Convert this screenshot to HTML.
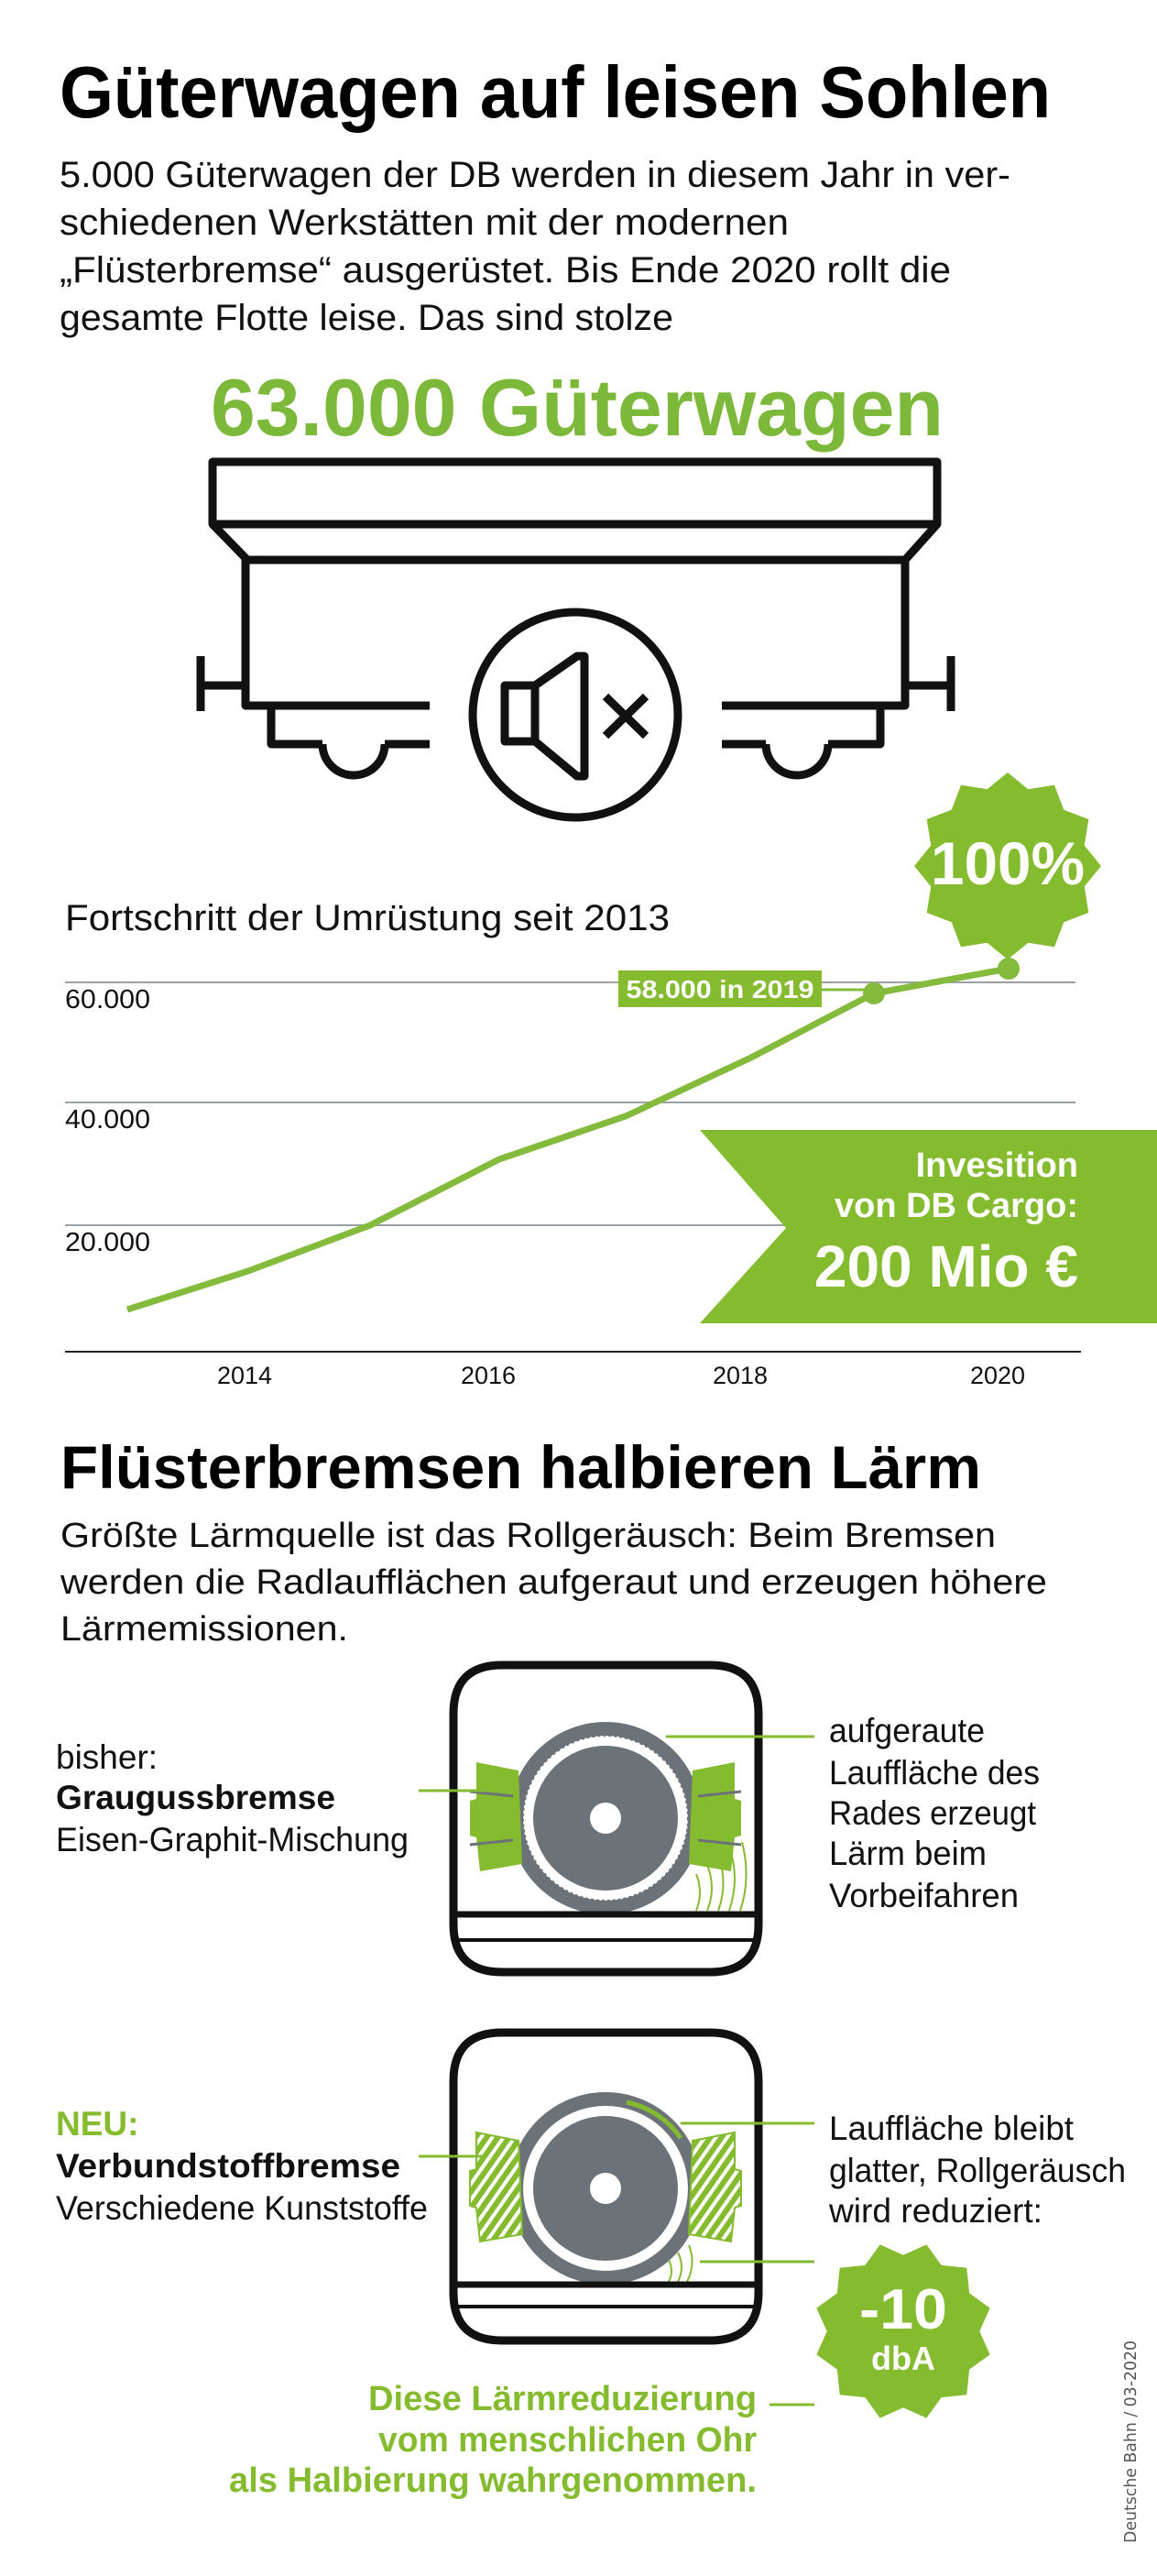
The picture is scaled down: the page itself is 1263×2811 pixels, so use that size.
<!DOCTYPE html>
<html><head><meta charset="utf-8"><style>
html,body{margin:0;padding:0;background:#fff}
svg{display:block}
text{font-family:"Liberation Sans Narrow","Liberation Sans",sans-serif}
</style></head><body>
<svg width="1263" height="2811" viewBox="0 0 1263 2811" xmlns="http://www.w3.org/2000/svg">
<defs>
<polygon id="star" points="1,0 .821,.22 .866,.5 .601,.601 .5,.866 .22,.821 0,1 -.22,.821 -.5,.866 -.601,.601 -.866,.5 -.821,.22 -1,0 -.821,-.22 -.866,-.5 -.601,-.601 -.5,-.866 -.22,-.821 0,-1 .22,-.821 .5,-.866 .601,-.601 .866,-.5 .821,-.22"/>
<pattern id="hatch" width="10" height="10" patternUnits="userSpaceOnUse" patternTransform="rotate(35)">
<rect width="10" height="10" fill="#fff"/><rect width="6" height="10" fill="#85bb2f"/></pattern>
</defs>
<rect width="1263" height="2811" fill="#fff"/>

<!-- Title -->
<text x="65" y="128" font-size="80" font-weight="bold" textLength="1082" lengthAdjust="spacingAndGlyphs" fill="#000">Güterwagen auf leisen Sohlen</text>
<g font-size="40" fill="#111">
<text x="65" y="204" textLength="1038" lengthAdjust="spacingAndGlyphs">5.000 Güterwagen der DB werden in diesem Jahr in ver-</text>
<text x="65" y="256" textLength="796" lengthAdjust="spacingAndGlyphs">schiedenen Werkstätten mit der modernen</text>
<text x="65" y="308" textLength="973" lengthAdjust="spacingAndGlyphs">„Flüsterbremse“ ausgerüstet. Bis Ende 2020 rollt die</text>
<text x="65" y="360" textLength="670" lengthAdjust="spacingAndGlyphs">gesamte Flotte leise. Das sind stolze</text>
</g>
<text x="230" y="475" font-size="88" font-weight="bold" textLength="800" lengthAdjust="spacingAndGlyphs" fill="#7cb83a">63.000 Güterwagen</text>

<!-- Wagon -->
<g fill="none" stroke="#111" stroke-width="9" stroke-linejoin="round">
<rect x="232" y="504" width="791" height="68"/>
<polyline points="232,572 270,611 988,611 1023,572"/>
<polyline points="469,770 268,770 268,611"/>
<polyline points="788,770 988,770 988,611"/>
<line x1="219" y1="716" x2="219" y2="776"/><line x1="219" y1="748" x2="268" y2="748"/>
<line x1="1038" y1="716" x2="1038" y2="776"/><line x1="988" y1="748" x2="1038" y2="748"/>
<polyline points="296,770 296,812 352,812"/>
<path d="M352,812 A34,34 0 0 0 420,812"/>
<line x1="420" y1="812" x2="469" y2="812"/>
<line x1="788" y1="812" x2="836" y2="812"/>
<path d="M836,812 A34,34 0 0 0 904,812"/>
<polyline points="904,812 961,812 961,770"/>
<circle cx="628" cy="780" r="112"/>
<path d="M551,748 L584,748 L584,809 L551,809 Z" />
<path d="M584,748 L630,716 L638,716 L638,847 L630,847 L584,809"/>
<line x1="661" y1="760" x2="705" y2="803"/><line x1="705" y1="760" x2="661" y2="803"/>
</g>

<!-- 100% badge -->
<use href="#star" transform="translate(1100,945) scale(102)" fill="#85bb2f"/>
<text x="1100" y="965" font-size="66" font-weight="bold" fill="#fff" text-anchor="middle" textLength="168" lengthAdjust="spacingAndGlyphs">100%</text>

<!-- Chart -->
<text x="71" y="1015" font-size="40" fill="#111" textLength="660" lengthAdjust="spacingAndGlyphs">Fortschritt der Umrüstung seit 2013</text>
<g stroke="#9aa0a4" stroke-width="2">
<line x1="71" y1="1072" x2="1174" y2="1072"/>
<line x1="71" y1="1203" x2="1174" y2="1203"/>
<line x1="71" y1="1337" x2="1174" y2="1337"/>
</g>
<line x1="71" y1="1475" x2="1180" y2="1475" stroke="#222" stroke-width="2"/>
<g font-size="29" fill="#111">
<text x="71" y="1100" textLength="93" lengthAdjust="spacingAndGlyphs">60.000</text>
<text x="71" y="1231" textLength="93" lengthAdjust="spacingAndGlyphs">40.000</text>
<text x="71" y="1365" textLength="93" lengthAdjust="spacingAndGlyphs">20.000</text>
</g>
<g font-size="27" fill="#111" text-anchor="middle">
<text x="267" y="1510">2014</text><text x="533" y="1510">2016</text>
<text x="808" y="1510">2018</text><text x="1089" y="1510">2020</text>
</g>
<!-- invest banner -->
<polygon points="764,1233 1263,1233 1263,1444 764,1444 858,1340" fill="#85bb2f"/>
<g fill="#fff" font-weight="bold" text-anchor="end">
<text x="1177" y="1284" font-size="38">Invesition</text>
<text x="1177" y="1328" font-size="38">von DB Cargo:</text>
<text x="1177" y="1404" font-size="64">200 Mio €</text>
</g>
<polyline points="139,1429 271,1387 404,1337 545,1265 683,1218 820,1154 954,1084 1101,1057" fill="none" stroke="#84bb3c" stroke-width="7"/>
<line x1="1101" y1="1040" x2="1101" y2="1057" stroke="#84bb3c" stroke-width="2"/>
<line x1="897" y1="1080" x2="954" y2="1080" stroke="#84bb3c" stroke-width="3"/>
<circle cx="954" cy="1084" r="12" fill="#84bb3c"/>
<circle cx="1101" cy="1057" r="12" fill="#84bb3c"/>
<rect x="675" y="1059" width="222" height="40" fill="#85bb2f"/>
<text x="786" y="1089" font-size="28" font-weight="bold" fill="#fff" text-anchor="middle" textLength="205" lengthAdjust="spacingAndGlyphs">58.000 in 2019</text>

<!-- Section 2 -->
<text x="66" y="1624" font-size="66" font-weight="bold" fill="#000" textLength="1005" lengthAdjust="spacingAndGlyphs">Flüsterbremsen halbieren Lärm</text>
<g font-size="38" fill="#111">
<text x="66" y="1688" textLength="1021" lengthAdjust="spacingAndGlyphs">Größte Lärmquelle ist das Rollgeräusch: Beim Bremsen</text>
<text x="66" y="1739" textLength="1077" lengthAdjust="spacingAndGlyphs">werden die Radlaufflächen aufgeraut und erzeugen höhere</text>
<text x="66" y="1790" textLength="314" lengthAdjust="spacingAndGlyphs">Lärmemissionen.</text>
</g>

<!-- Box 1 -->
<g>
<circle cx="661" cy="1984" r="105" fill="#6b7379"/>
<circle cx="661" cy="1984" r="90" fill="#fff"/>
<circle cx="661" cy="1984" r="91" fill="none" stroke="#6b7379" stroke-width="4" stroke-dasharray="3 3"/>
<circle cx="661" cy="1984" r="79" fill="#6b7379"/>
<circle cx="661" cy="1984" r="17" fill="#fff"/>
<path d="M520,1923 L566,1932 L570,2034 L524,2042 L520,2005 L513,2003 L513,1965 L520,1963 Z" fill="#85bb2f"/>
<path d="M802,1923 L756,1932 L752,2034 L798,2042 L802,2005 L809,2003 L809,1965 L802,1963 Z" fill="#85bb2f"/>
<line x1="513" y1="1955" x2="560" y2="1960" stroke="#6b7379" stroke-width="3"/>
<line x1="513" y1="2013" x2="560" y2="2008" stroke="#6b7379" stroke-width="3"/>
<line x1="809" y1="1955" x2="762" y2="1960" stroke="#6b7379" stroke-width="3"/>
<line x1="809" y1="2013" x2="762" y2="2008" stroke="#6b7379" stroke-width="3"/>
<g fill="none" stroke="#85bb2f" stroke-width="2">
<path d="M760,2085 Q768,2065 760,2045"/><path d="M772,2085 Q782,2060 772,2035"/><path d="M784,2085 Q795,2055 784,2025"/><path d="M796,2085 Q808,2050 796,2015"/><path d="M808,2085 Q820,2050 810,2010"/>
</g>
<rect x="495" y="2089" width="333" height="63" fill="#fff"/>
<line x1="499" y1="2089" x2="824" y2="2089" stroke="#111" stroke-width="7"/>
<line x1="499" y1="2117" x2="824" y2="2117" stroke="#111" stroke-width="4"/>
<path d="M548,1817 L775,1817 Q828,1817 828,1870 L828,2100 Q828,2152 775,2152 L548,2152 Q495,2152 495,2100 L495,1870 Q495,1817 548,1817 Z" fill="none" stroke="#111" stroke-width="9"/>
</g>
<line x1="457" y1="1954" x2="533" y2="1954" stroke="#85bb2f" stroke-width="3"/>
<line x1="727" y1="1895" x2="889" y2="1895" stroke="#85bb2f" stroke-width="3"/>
<g font-size="37" fill="#111">
<text x="61" y="1930">bisher:</text>
<text x="61" y="1974" font-weight="bold" textLength="305" lengthAdjust="spacingAndGlyphs">Graugussbremse</text>
<text x="61" y="2020" textLength="385" lengthAdjust="spacingAndGlyphs">Eisen-Graphit-Mischung</text>
<text x="905" y="1901" textLength="170" lengthAdjust="spacingAndGlyphs">aufgeraute</text>
<text x="905" y="1947" textLength="230" lengthAdjust="spacingAndGlyphs">Lauffläche des</text>
<text x="905" y="1991" textLength="226" lengthAdjust="spacingAndGlyphs">Rades erzeugt</text>
<text x="905" y="2035" textLength="172" lengthAdjust="spacingAndGlyphs">Lärm beim</text>
<text x="905" y="2081" textLength="207" lengthAdjust="spacingAndGlyphs">Vorbeifahren</text>
</g>

<!-- Box 2 -->
<g>
<circle cx="661" cy="2388" r="105" fill="#6b7379"/>
<circle cx="661" cy="2388" r="90" fill="#fff"/>
<circle cx="661" cy="2388" r="79" fill="#6b7379"/>
<circle cx="661" cy="2388" r="17" fill="#fff"/>
<path d="M684,2294 A95,95 0 0 1 743,2333" fill="none" stroke="#85bb2f" stroke-width="5"/>
<path d="M520,2327 L566,2336 L570,2438 L524,2446 L520,2409 L513,2407 L513,2369 L520,2367 Z" fill="url(#hatch)" stroke="#85bb2f" stroke-width="2"/>
<path d="M802,2327 L756,2336 L752,2438 L798,2446 L802,2409 L809,2407 L809,2369 L802,2367 Z" fill="url(#hatch)" stroke="#85bb2f" stroke-width="2"/>
<g fill="none" stroke="#85bb2f" stroke-width="2">
<path d="M730,2490 Q736,2478 730,2466"/><path d="M740,2490 Q748,2474 740,2458"/><path d="M750,2490 Q760,2470 752,2450"/>
</g>
<rect x="495" y="2493" width="333" height="61" fill="#fff"/>
<line x1="499" y1="2493" x2="824" y2="2493" stroke="#111" stroke-width="7"/>
<line x1="499" y1="2517" x2="824" y2="2517" stroke="#111" stroke-width="4"/>
<path d="M548,2218 L775,2218 Q828,2218 828,2271 L828,2502 Q828,2554 775,2554 L548,2554 Q495,2554 495,2502 L495,2271 Q495,2218 548,2218 Z" fill="none" stroke="#111" stroke-width="9"/>
</g>
<line x1="457" y1="2353" x2="530" y2="2353" stroke="#85bb2f" stroke-width="3"/>
<line x1="743" y1="2317" x2="889" y2="2317" stroke="#85bb2f" stroke-width="3"/>
<line x1="764" y1="2468" x2="889" y2="2468" stroke="#85bb2f" stroke-width="3"/>
<g font-size="37" fill="#111">
<text x="61" y="2330" font-weight="bold" fill="#85bb2f">NEU:</text>
<text x="61" y="2376" font-weight="bold" textLength="376" lengthAdjust="spacingAndGlyphs">Verbundstoffbremse</text>
<text x="61" y="2422" textLength="406" lengthAdjust="spacingAndGlyphs">Verschiedene Kunststoffe</text>
<text x="905" y="2335" textLength="267" lengthAdjust="spacingAndGlyphs">Lauffläche bleibt</text>
<text x="905" y="2381" textLength="324" lengthAdjust="spacingAndGlyphs">glatter, Rollgeräusch</text>
<text x="905" y="2425" textLength="233" lengthAdjust="spacingAndGlyphs">wird reduziert:</text>
</g>
<use href="#star" transform="translate(986,2544) rotate(15) scale(98)" fill="#85bb2f"/>
<text x="986" y="2541" font-size="62" font-weight="bold" fill="#fff" text-anchor="middle" textLength="96" lengthAdjust="spacingAndGlyphs">-10</text>
<text x="986" y="2586" font-size="36" font-weight="bold" fill="#fff" text-anchor="middle">dbA</text>

<g font-size="38" font-weight="bold" fill="#85bb2f" text-anchor="end">
<text x="826" y="2630" textLength="424" lengthAdjust="spacingAndGlyphs">Diese Lärmreduzierung</text>
<text x="826" y="2675" textLength="413" lengthAdjust="spacingAndGlyphs">vom menschlichen Ohr</text>
<text x="826" y="2719" textLength="576" lengthAdjust="spacingAndGlyphs">als Halbierung wahrgenommen.</text>
</g>
<line x1="840" y1="2624" x2="889" y2="2624" stroke="#85bb2f" stroke-width="3"/>
<text transform="translate(1240,2775) rotate(-90)" font-size="18" fill="#555" textLength="221" lengthAdjust="spacingAndGlyphs" style="font-family:'DejaVu Sans',sans-serif">Deutsche Bahn / 03-2020</text>
</svg>
</body></html>
